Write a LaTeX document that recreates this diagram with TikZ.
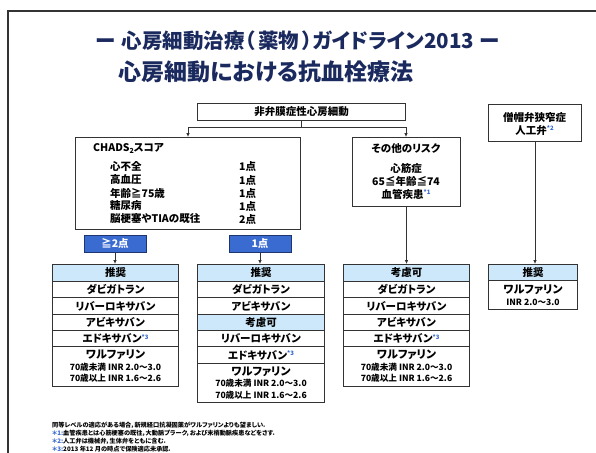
\documentclass[tikz,border=0pt]{standalone}
\usepackage{fontspec}
\setmainfont{Noto Sans CJK JP}[RawFeature=+palt]
\usetikzlibrary{arrows.meta}
\definecolor{navy}{HTML}{1B2A5E}
\definecolor{linegray}{HTML}{333333}
\definecolor{hdrblue}{HTML}{CCE8FA}
\definecolor{boxblue}{HTML}{3A6BD0}
\definecolor{bluedark}{HTML}{1F3570}
\definecolor{fnblue}{HTML}{3366CC}
\newcommand\fnote[1]{\raisebox{0.55ex}{\fontsize{6}{6}\selectfont\color{fnblue}*#1}}
\newcommand\fz[1]{\fontsize{#1}{#1}\selectfont}
\tikzset{
  txt/.style={font=\bfseries\fz{10.5}, inner sep=0pt},
  box/.style={txt, draw=linegray, line width=1pt, fill=white, anchor=north west, align=center},
  hdr/.style={box, fill=hdrblue},
  conn/.style={draw=linegray, line width=0.9pt},
  arr/.style={conn, -{Latex[length=4pt,width=3.6pt]}},
  bluebox/.style={txt, draw=bluedark, line width=1pt, fill=boxblue, text=white, minimum width=62pt, minimum height=17pt},
  titleA/.style={font=\bfseries\fz{20.5}, text=navy, inner sep=0pt},
  titleB/.style={font=\bfseries\fz{23}, text=navy, inner sep=0pt},
  fn/.style={font=\bfseries\fz{6.2}, inner sep=0pt, anchor=west},
}
\newcommand\warf{{\fz{11}ワルファリン}\\[1pt]{\fz{8.6}70歳未満 INR 2.0〜3.0}\\[1pt]{\fz{8.6}70歳以上 INR 1.6〜2.6}}
\begin{document}
\begin{tikzpicture}[x=1pt,y=-1pt]
\useasboundingbox (0,0) rectangle (596,452);
\clip (0,0) rectangle (596,452);
\fill[white] (0,0) rectangle (596,452);
% frame
\draw[line width=2pt, draw=linegray] (8,470) -- (8,11) -- (610,11);
% titles
\node[titleA] (t1) at (298,41) {ー\hspace{6pt}心房細動治療（\hspace{3pt}薬物\hspace{3pt}）ガイドライン2013\hspace{6pt}ー};
\node[titleB] (t2) at (266,72) {心房細動における抗血栓療法};
% top boxes
\node[box, minimum width=208pt, minimum height=17pt] (nv) at (197,103) {非弁膜症性心房細動};
\node[box, minimum width=225pt, minimum height=92pt] (chads) at (75,137) {};
\node[box, minimum width=108pt, minimum height=69pt] (risk) at (352,137) {};
\node[box, minimum width=93pt, minimum height=37pt] (mv) at (488,104) {};
% CHADS content
\node[txt, anchor=west] (ch) at (93,148) {CHADS{\fz{7}\raisebox{-2pt}{2}}スコア};
\node[txt, anchor=west] (ci1) at (110,166) {心不全};
\node[txt, anchor=west] (ci2) at (110,180) {高血圧};
\node[txt, anchor=west] (ci3) at (110,193) {年齢≧75歳};
\node[txt, anchor=west] (ci4) at (110,206) {糖尿病};
\node[txt, anchor=west] (ci5) at (110,219) {脳梗塞やTIAの既往};
\node[txt, anchor=west] (cp1) at (239,166) {1点};
\node[txt, anchor=west] (cp2) at (239,180) {1点};
\node[txt, anchor=west] (cp3) at (239,193) {1点};
\node[txt, anchor=west] (cp4) at (239,206) {1点};
\node[txt, anchor=west] (cp5) at (239,219) {2点};
% risk content
\node[txt] (r0) at (406,149) {その他のリスク};
\node[txt] (r1) at (406,168) {心筋症};
\node[txt] (r2) at (406,181) {65≦年齢≦74};
\node[txt] (r3) at (406,194) {血管疾患\fnote{1}};
% mitral content
\node[txt] (m0) at (534.5,117) {僧帽弁狭窄症};
\node[txt] (m1) at (534.5,130) {人工弁\fnote{2}};
% blue score boxes
\node[bluebox] (p2) at (115,243.5) {≧2点};
\node[bluebox] (p1) at (260,243.5) {1点};
% column 1
\node[hdr, minimum width=126pt, minimum height=17pt] (a0) at (52,264) {推奨};
\node[box, minimum width=126pt, minimum height=16pt] (a1) at (52,281) {ダビガトラン};
\node[box, minimum width=126pt, minimum height=17pt] (a2) at (52,297) {リバーロキサバン};
\node[box, minimum width=126pt, minimum height=16pt] (a3) at (52,314) {アビキサバン};
\node[box, minimum width=126pt, minimum height=16pt] (a4) at (52,330) {エドキサバン\fnote{3}};
\node[box, minimum width=126pt, minimum height=40pt] (a5) at (52,346) {\warf};
% column 2
\node[hdr, minimum width=127pt, minimum height=17pt] (b0) at (197,264) {推奨};
\node[box, minimum width=127pt, minimum height=16pt] (b1) at (197,281) {ダビガトラン};
\node[box, minimum width=127pt, minimum height=17pt] (b2) at (197,297) {アビキサバン};
\node[hdr, minimum width=127pt, minimum height=16pt] (b3) at (197,314) {考慮可};
\node[box, minimum width=127pt, minimum height=16pt] (b4) at (197,330) {リバーロキサバン};
\node[box, minimum width=127pt, minimum height=17pt] (b5) at (197,346) {エドキサバン\fnote{3}};
\node[box, minimum width=127pt, minimum height=39pt] (b6) at (197,363) {\warf};
% column 3
\node[hdr, minimum width=126pt, minimum height=17pt] (c0) at (343,264) {考慮可};
\node[box, minimum width=126pt, minimum height=16pt] (c1) at (343,281) {ダビガトラン};
\node[box, minimum width=126pt, minimum height=17pt] (c2) at (343,297) {リバーロキサバン};
\node[box, minimum width=126pt, minimum height=16pt] (c3) at (343,314) {アビキサバン};
\node[box, minimum width=126pt, minimum height=16pt] (c4) at (343,330) {エドキサバン\fnote{3}};
\node[box, minimum width=126pt, minimum height=40pt] (c5) at (343,346) {\warf};
% column 4
\node[hdr, minimum width=89pt, minimum height=16pt] (d0) at (488,264) {推奨};
\node[box, minimum width=89pt, minimum height=29pt] (d1) at (488,280) {{\fz{11}ワルファリン}\\[1pt]{\fz{8.6}INR 2.0〜3.0}};
% connectors
\coordinate (jl) at (188,127);
\coordinate (jr) at (406,127);
\draw[conn] (nv.south) -- (nv.south |- jl);
\draw[conn] (jl) -- (jr);
\draw[arr] (jl) -- (jl |- chads.north);
\draw[arr] (jr) -- (jr |- risk.north);
\draw[arr] (p2.south) -- (p2.south |- a0.north);
\draw[arr] (p1.south) -- (p1.south |- b0.north);
\draw[arr] (risk.south) -- (risk.south |- c0.north);
\draw[arr] (mv.south) -- (mv.south |- d0.north);
% footnotes
\node[fn] (f1) at (52,425) {同等レベルの適応がある場合，新規経口抗凝固薬がワルファリンよりも望ましい．};
\node[fn] (f2) at (52,433) {{\color{fnblue}＊1:}血管疾患とは心筋梗塞の既往，大動脈プラーク，および末梢動脈疾患などをさす．};
\node[fn] (f3) at (52,441) {{\color{fnblue}＊2:}人工弁は機械弁，生体弁をともに含む．};
\node[fn] (f4) at (52,449) {{\color{fnblue}＊3:}2013 年12 月の時点で保険適応未承認．};
\end{tikzpicture}
\end{document}
